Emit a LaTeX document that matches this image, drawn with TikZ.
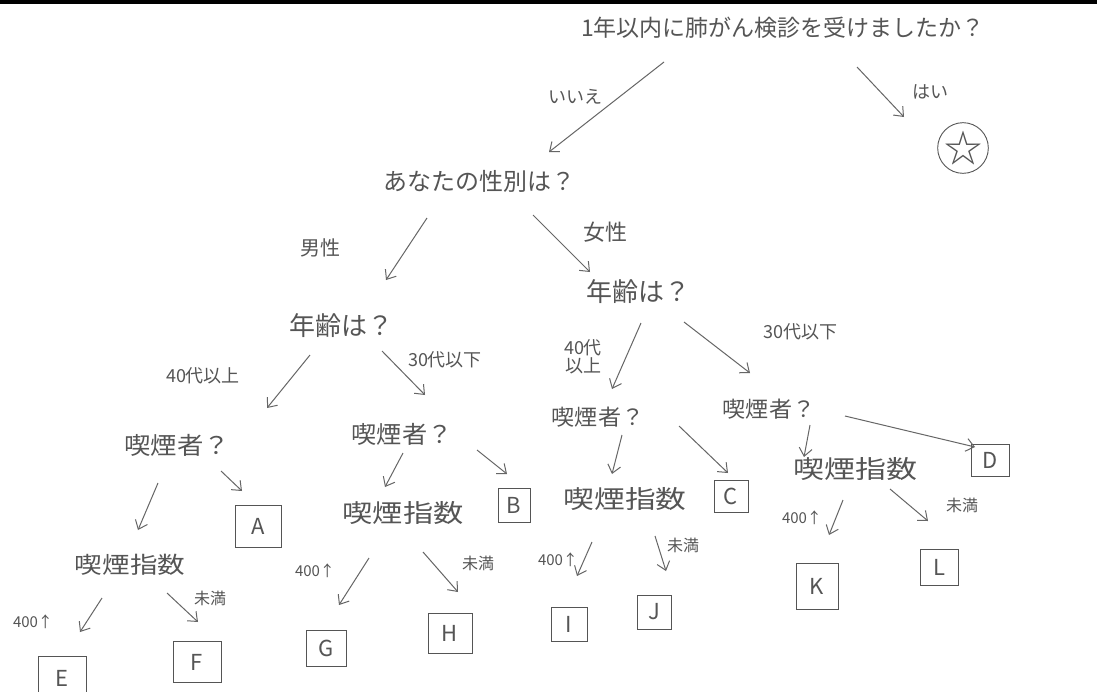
\documentclass[tikz,border=0pt]{standalone}
\usepackage{fontspec}
\usepackage{graphicx}
\newfontfamily\jp{Noto Sans CJK JP}
\usetikzlibrary{arrows.meta}
\definecolor{ink}{HTML}{555555}
\definecolor{pen}{HTML}{666666}
\tikzset{
  txt/.style={text=ink, inner sep=0pt, align=center, font=\jp\fontsize{#1}{#1}\selectfont},
  lbox/.style={draw=ink, line width=0.9pt, text=ink, inner sep=0pt, font=\jp\fontsize{22}{22}\selectfont},
  arr/.style={draw=pen, line width=1pt, -{Straight Barb[length=8pt,width=13pt]}},
}
\newcommand{\wide}[2]{\scalebox{#1}[1]{#2}}
\begin{document}
\begin{tikzpicture}[x=1pt,y=-1pt]
\useasboundingbox (0,0) rectangle (1097,691);
\clip (0,0) rectangle (1097,691);
\fill[white] (0,0) rectangle (1097,691);
\draw[black, line width=3.5pt] (0,2) -- (1097,2);

% questions
\node[txt=23] (q1) at (783,28) {1年以内に肺がん検診を受けましたか？};
\node[txt=24] (gender) at (479,181) {あなたの性別は？};
\node[txt=26] (ageL) at (341,326) {年齢は？};
\node[txt=26] (ageR) at (638,292) {年齢は？};
\node[txt=24] (smkLL) at (177,445) {\wide{1.1}{喫煙者？}};
\node[txt=24] (smkLR) at (402,434) {\wide{1.05}{喫煙者？}};
\node[txt=22] (smkRL) at (598,417) {\wide{1.05}{喫煙者？}};
\node[txt=22] (smkRR) at (769,409) {\wide{1.05}{喫煙者？}};
\node[txt=23] (idxLL) at (130,565) {\wide{1.2}{喫煙指数}};
\node[txt=25] (idxLR) at (403,513) {\wide{1.21}{喫煙指数}};
\node[txt=25] (idxRL) at (625,499) {\wide{1.23}{喫煙指数}};
\node[txt=25] (idxRR) at (855,469) {\wide{1.24}{喫煙指数}};

% answers
\node[draw=ink, line width=0.9pt, circle, minimum size=46pt, inner sep=0pt, text=ink, font=\jp\fontsize{38}{38}\selectfont] (star) at (963,148) {☆};
\node[lbox, minimum width=46pt, minimum height=42pt] (A) at (258,526) {A};
\node[lbox, minimum width=32pt, minimum height=34pt] (B) at (514,505) {B};
\node[lbox, minimum width=34pt, minimum height=32pt] (C) at (731,496) {C};
\node[lbox, minimum width=38pt, minimum height=32pt] (D) at (990,460) {D};
\node[lbox, minimum width=48pt, minimum height=44pt] (E) at (62,678) {E};
\node[lbox, minimum width=48pt, minimum height=41pt] (F) at (197,662) {F};
\node[lbox, minimum width=40pt, minimum height=36pt] (G) at (326,648) {G};
\node[lbox, minimum width=44pt, minimum height=40pt] (H) at (450,633) {H};
\node[lbox, minimum width=36pt, minimum height=34pt] (I) at (569,624) {I};
\node[lbox, minimum width=34pt, minimum height=34pt] (J) at (654,612) {J};
\node[lbox, minimum width=42pt, minimum height=46pt] (K) at (817,586) {K};
\node[lbox, minimum width=38pt, minimum height=36pt] (L) at (939,567) {L};

% labels
\node[txt=18] (lno) at (575,97) {いいえ};
\node[txt=18] (lyes) at (930,92) {はい};
\node[txt=20] (lmale) at (320,248) {男性};
\node[txt=22] (lfemale) at (605,232) {女性};
\node[txt=18] (l40L) at (203,376) {40代以上};
\node[txt=18] (l30L) at (445,360) {30代以下};
\node[txt=18] (l40R) at (583,357) {40代\\以上};
\node[txt=18] (l30R) at (800,332) {30代以下};
\node[txt=15] (uE) at (33,622) {400↑};
\node[txt=16] (mF) at (210,598) {未満};
\node[txt=15] (uG) at (315,571) {400↑};
\node[txt=16] (mH) at (478,563) {未満};
\node[txt=15] (uI) at (558,560) {400↑};
\node[txt=16] (mJ) at (683,545) {未満};
\node[txt=15] (uK) at (802,518) {400↑};
\node[txt=16] (mL) at (962,505) {未満};

% connectors
\draw[arr] ([shift={(-119,34)}]q1.center) -- ([shift={(70,-29)}]gender.center);
\draw[arr] ([shift={(74,39)}]q1.center) -- ([shift={(-59,-31)}]star.center);
\draw[arr] ([shift={(-52,37)}]gender.center) -- ([shift={(45,-46)}]ageL.center);
\draw[arr] ([shift={(54,34)}]gender.center) -- ([shift={(-48,-20)}]ageR.center);
\draw[arr] ([shift={(-31,29)}]ageL.center) -- ([shift={(90,-37)}]smkLL.center);
\draw[arr] ([shift={(41,25)}]ageL.center) -- ([shift={(23,-39)}]smkLR.center);
\draw[arr] ([shift={(3,31)}]ageR.center) -- ([shift={(14,-28)}]smkRL.center);
\draw[arr] ([shift={(46,30)}]ageR.center) -- ([shift={(-19,-36)}]smkRR.center);
\draw[arr] ([shift={(-19,38)}]smkLL.center) -- ([shift={(8,-35)}]idxLL.center);
\draw[arr] ([shift={(44,26)}]smkLL.center) -- ([shift={(-16,-35)}]A.center);
\draw[arr] ([shift={(1,19)}]smkLR.center) -- ([shift={(-18,-26)}]idxLR.center);
\draw[arr] ([shift={(75,16)}]smkLR.center) -- ([shift={(-7,-31)}]B.center);
\draw[arr] ([shift={(24,18)}]smkRL.center) -- ([shift={(-13,-25)}]idxRL.center);
\draw[arr] ([shift={(81,9)}]smkRL.center) -- ([shift={(-3,-23)}]C.center);
\draw[arr] ([shift={(41,16)}]smkRR.center) -- ([shift={(-51,-12)}]idxRR.center);
\draw[arr] ([shift={(76,7)}]smkRR.center) -- ([shift={(-15,-13)}]D.center);
\draw[arr] ([shift={(-28,33)}]idxLL.center) -- ([shift={(18,-46)}]E.center);
\draw[arr] ([shift={(37,28)}]idxLL.center) -- ([shift={(1,-40)}]F.center);
\draw[arr] ([shift={(-34,45)}]idxLR.center) -- ([shift={(13,-43)}]G.center);
\draw[arr] ([shift={(20,39)}]idxLR.center) -- ([shift={(8,-41)}]H.center);
\draw[arr] ([shift={(-33,43)}]idxRL.center) -- ([shift={(8,-48)}]I.center);
\draw[arr] ([shift={(30,37)}]idxRL.center) -- ([shift={(12,-41)}]J.center);
\draw[arr] ([shift={(-12,31)}]idxRR.center) -- ([shift={(12,-51)}]K.center);
\draw[arr] ([shift={(35,20)}]idxRR.center) -- ([shift={(-11,-46)}]L.center);
\end{tikzpicture}
\end{document}
